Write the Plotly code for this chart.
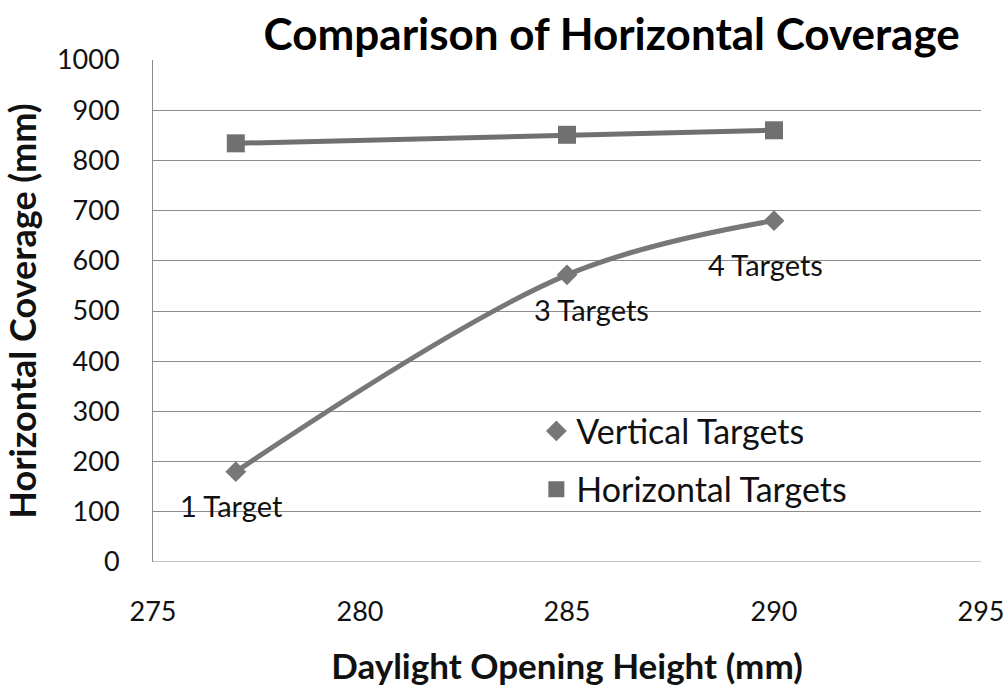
import plotly.graph_objects as go

# Data
heights = [277, 285, 290]
vertical_targets = [180, 572, 680]
horizontal_targets = [834, 851, 860]
point_labels = ["1 Target", "3 Targets", "4 Targets"]
label_x = [276.9, 285.6, 289.8]
label_y = [113, 503, 592]
x_ticks = [275, 280, 285, 290, 295]
y_ticks = [0, 100, 200, 300, 400, 500, 600, 700, 800, 900, 1000]

FONT = "Lato, 'Open Sans', sans-serif"
GRAY = "#777777"
HGRAY = "#707070"

fig = go.Figure()
fig.add_trace(go.Scatter(
    x=heights, y=vertical_targets, mode="lines+markers", name="Vertical Targets",
    line=dict(color=GRAY, width=5, shape="spline"),
    marker=dict(symbol="diamond", size=16, color=GRAY),
    showlegend=False,
))
fig.add_trace(go.Scatter(
    x=heights, y=horizontal_targets, mode="lines+markers", name="Horizontal Targets",
    line=dict(color=HGRAY, width=5),
    marker=dict(symbol="square", size=18, color=HGRAY),
    showlegend=False,
))
# legend entries (markers only, as in the reference legend)
fig.add_trace(go.Scatter(
    x=[None], y=[None], mode="markers", name="Vertical Targets",
    marker=dict(symbol="diamond", size=16, color=GRAY), legendgroup="v",
))
fig.add_trace(go.Scatter(
    x=[None], y=[None], mode="markers", name="Horizontal Targets",
    marker=dict(symbol="square", size=18, color=HGRAY), legendgroup="h",
))

for t, xx, yy in zip(point_labels, label_x, label_y):
    fig.add_annotation(x=xx, y=yy, text=t, showarrow=False, xref="x", yref="y",
                       font=dict(family=FONT, size=29, color="#111111"))

fig.update_layout(
    width=1006, height=692,
    margin=dict(l=153, r=25, t=60, b=130),
    paper_bgcolor="white", plot_bgcolor="white",
    font=dict(family=FONT, color="#111111"),
    title=dict(text="<b>Comparison of Horizontal Coverage</b>", x=0.608, xanchor="center",
               y=0.95, yanchor="middle", font=dict(family=FONT, size=44, color="#000000")),
    legend=dict(x=0.463, y=0.318, xanchor="left", yanchor="top", bgcolor="rgba(0,0,0,0)",
                font=dict(family=FONT, size=34, color="#111111"),
                traceorder="grouped", tracegroupgap=11, itemsizing="trace", itemwidth=30),
    showlegend=True,
)
fig.update_xaxes(
    range=[275, 295], tickvals=x_ticks, showgrid=False, zeroline=False,
    showline=False, ticks="", ticklabelstandoff=31, automargin=False,
    tickfont=dict(family=FONT, size=27, color="#111111"),
    title=dict(text="<b>Daylight Opening Height (mm)</b>", standoff=28,
               font=dict(family=FONT, size=35, color="#111111")),
)
fig.update_yaxes(
    range=[0, 1000], tickvals=y_ticks, showgrid=True, gridcolor="#8c8c8c", gridwidth=1,
    zeroline=False, showline=True, linecolor="#8c8c8c", linewidth=1, ticks="",
    ticklabelstandoff=27, automargin=False,
    tickfont=dict(family=FONT, size=27, color="#111111"),
    title=dict(text="<b>Horizontal Coverage (mm)</b>", standoff=10,
               font=dict(family=FONT, size=36, color="#111111")),
)
fig.add_hline(y=0, line=dict(color="#8c8c8c", width=1))

fig.write_html("out.html", config={"displayModeBar": False},
               post_script="document.body.style.margin='0px';")
